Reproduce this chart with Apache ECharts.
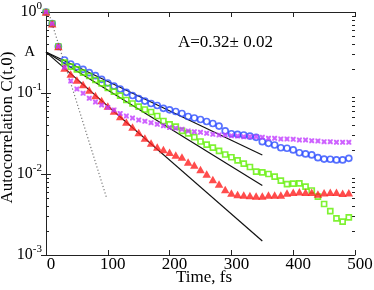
<!DOCTYPE html>
<html>
<head>
<meta charset="utf-8">
<script src="https://cdn.jsdelivr.net/npm/echarts@6/dist/echarts.min.js"></script>
<style>
html,body{margin:0;padding:0;background:#fff;}
#chart{width:374px;height:290px;}
</style>
</head>
<body>
<div id="chart"></div>
<script>
// ---- data ----
const times = [0,10,20,30,40,50,60,70,80,90,100,110,120,130,140,150,160,170,180,190,200,210,220,230,240,250,260,270,280,290,300,310,320,330,340,350,360,370,380,390,400,410,420,430,440,450,460,470,480,490];

const blueCircles = [1,0.717,0.375,0.2555,0.228,0.211,0.196,0.178,0.1636,0.1476,0.1329,0.122,0.112,0.102,0.0931,0.0855,0.0796,0.0742,0.0701,0.0647,0.0620,0.0591,0.0558,0.0513,0.0491,0.0471,0.0445,0.0420,0.0391,0.0340,0.0314,0.0309,0.0303,0.0294,0.0284,0.0251,0.0239,0.0228,0.0211,0.0208,0.0198,0.0183,0.0177,0.0172,0.0159,0.0153,0.0152,0.0149,0.0149,0.0156];

const greenSquares = [1,0.717,0.375,0.2366,0.2112,0.1962,0.1780,0.1622,0.1447,0.1317,0.1152,0.1038,0.0926,0.0819,0.0742,0.0678,0.0626,0.0583,0.0520,0.0451,0.0411,0.0384,0.0340,0.0318,0.0286,0.0252,0.0231,0.0212,0.0193,0.0174,0.0161,0.0147,0.0134,0.0122,0.01067,0.0105,0.0100,0.00926,0.00827,0.00752,0.00759,0.00768,0.00697,0.00626,0.00525,0.00426,0.00349,0.00284,0.00258,0.00292];

const magentaCrosses = [1,0.717,0.375,0.2077,0.1406,0.1120,0.0992,0.0860,0.0774,0.0711,0.0662,0.0617,0.0558,0.0520,0.0491,0.0464,0.0447,0.0430,0.0412,0.0395,0.0375,0.0367,0.0356,0.0340,0.0333,0.0327,0.0318,0.0309,0.0303,0.0303,0.0297,0.0294,0.0289,0.0289,0.0289,0.0284,0.0276,0.0276,0.0270,0.0270,0.0268,0.0263,0.0263,0.0258,0.0256,0.0251,0.0251,0.0246,0.0246,0.0246];

const redTriangles = [1,0.717,0.375,0.2035,0.1716,0.1447,0.1273,0.1089,0.0931,0.0808,0.0691,0.0600,0.0513,0.0439,0.0380,0.0325,0.0278,0.0241,0.0215,0.0201,0.0186,0.0172,0.0162,0.0141,0.0129,0.0114,0.0100,0.00855,0.00752,0.00643,0.00583,0.00558,0.00550,0.00543,0.00535,0.00535,0.00550,0.00550,0.00550,0.00583,0.00594,0.00605,0.00594,0.00594,0.00566,0.00588,0.00594,0.00594,0.00578,0.00588];

const amplitude = 0.32;
const amplitudeLabel = 'A';
const fitTimes = [0, 350];
const fitBlue = [0.32, 0.0172];
const fitGreen = [0.32, 0.0072];
const fitRed = [0.32, 0.00149];
const dottedTimes = [0, 98];
const dottedValues = [1.25, 0.0051];

const xTickValues = [0,100,200,300,400,500];
const yTickExponents = {'1':'0','0.1':'-1','0.01':'-2','0.001':'-3'};
const yMinorTicks = [0.002,0.003,0.004,0.005,0.006,0.007,0.008,0.009,0.02,0.03,0.04,0.05,0.06,0.07,0.08,0.09,0.2,0.3,0.4,0.5,0.6,0.7,0.8,0.9];
const annotation = 'A=0.32\u00b1 0.02';

// ---- chart ----
const FONT = '"Liberation Serif", "Times New Roman", serif';
const pairs = (xs, ys) => xs.map((x, i) => [x, ys[i]]);
const chart = echarts.init(document.getElementById('chart'), null, {renderer: 'canvas'});

const axisLineStyle = {color: '#222', width: 1};
const xMin = xTickValues[0], xMax = xTickValues[xTickValues.length - 1];

const option = {
  animation: false,
  backgroundColor: '#fff',
  grid: {left: 46, right: 19, top: 12, bottom: 35, containLabel: false, outerBoundsMode: 'none'},
  xAxis: [{
    type: 'value', min: xMin, max: xMax, interval: 100,
    position: 'bottom',
    axisLine: {show: true, lineStyle: axisLineStyle},
    axisTick: {show: true, inside: true, length: 5, lineStyle: axisLineStyle},
    splitLine: {show: false},
    axisLabel: {fontFamily: FONT, fontSize: 17, color: '#000', margin: 1, padding: [0, 0, 0, 10]},
    name: 'Time, fs', nameLocation: 'middle', nameGap: 14, nameMoveOverlap: false,
    nameTextStyle: {fontFamily: FONT, fontSize: 17, color: '#000', padding: [0, 0, 0, 7]}
  }, {
    type: 'value', min: xMin, max: xMax, interval: 100,
    position: 'top',
    axisLine: {show: true, lineStyle: axisLineStyle},
    axisTick: {show: true, inside: true, length: 5, lineStyle: axisLineStyle},
    splitLine: {show: false},
    axisLabel: {show: false}
  }],
  yAxis: [{
    type: 'log', logBase: 10, min: 0.001, max: 1,
    position: 'left',
    axisLine: {show: true, lineStyle: axisLineStyle},
    axisTick: {show: true, inside: true, length: 5, lineStyle: axisLineStyle},
    splitLine: {show: false},
    axisLabel: {
      margin: 4,
      formatter: function (v) {
        const key = String(+v.toPrecision(3));
        return '{b|10}{s|' + (yTickExponents[key] || '') + '}';
      },
      rich: {
        b: {fontFamily: FONT, fontSize: 16, color: '#000', lineHeight: 22},
        s: {fontFamily: FONT, fontSize: 11, color: '#000', verticalAlign: 'top', lineHeight: 11}
      }
    },
    name: 'Autocorrelation C(t,0)', nameLocation: 'middle', nameGap: 30, nameRotate: 90, nameMoveOverlap: false,
    nameTextStyle: {fontFamily: FONT, fontSize: 17, color: '#000', padding: [0, 0, 0, 12]}
  }, {
    type: 'log', logBase: 10, min: 0.001, max: 1,
    position: 'right',
    axisLine: {show: true, lineStyle: axisLineStyle},
    axisTick: {show: true, inside: true, length: 5, lineStyle: axisLineStyle},
    splitLine: {show: false},
    axisLabel: {show: false}
  }],
  graphic: [{
    type: 'text',
    x: 178, y: 43,
    style: {text: annotation, font: '17px ' + FONT, fill: '#000', verticalAlign: 'middle'}
  }],
  series: [
    {
      type: 'custom', xAxisIndex: 0, yAxisIndex: 0, silent: true, clip: false,
      data: yMinorTicks.map(v => [xMin, v]),
      renderItem: function (params, api) {
        const v = api.value(1);
        const pL = api.coord([xMin, v]);
        const pR = api.coord([xMax, v]);
        const y = Math.round(pL[1]) + 0.5;
        return {type: 'group', children: [
          {type: 'line', shape: {x1: pL[0], y1: y, x2: pL[0] + 3, y2: y}, style: {stroke: '#222', lineWidth: 1}},
          {type: 'line', shape: {x1: pR[0] - 3, y1: y, x2: pR[0], y2: y}, style: {stroke: '#222', lineWidth: 1}}
        ]};
      }
    },
    {
      type: 'custom', silent: true, clip: false, z: 6,
      data: [[xMin, amplitude]],
      renderItem: function (params, api) {
        const p = api.coord([api.value(0), api.value(1)]);
        return {type: 'text', x: p[0] - 11, y: p[1],
                style: {text: amplitudeLabel, font: '15px ' + FONT, fill: '#000', align: 'right', verticalAlign: 'middle'}};
      }
    },
    {
      type: 'line', data: pairs(dottedTimes, dottedValues), showSymbol: false, symbol: 'none',
      lineStyle: {color: '#777', width: 1.2, type: [1.2, 2.2]}, clip: true, z: 2
    },
    {
      type: 'line', data: pairs(fitTimes, fitBlue), symbol: 'none',
      lineStyle: {color: '#111', width: 1.2}, z: 3
    },
    {
      type: 'line', data: pairs(fitTimes, fitGreen), symbol: 'none',
      lineStyle: {color: '#111', width: 1.2}, z: 3
    },
    {
      type: 'line', data: pairs(fitTimes, fitRed), symbol: 'none',
      lineStyle: {color: '#111', width: 1.2}, z: 3
    },
    {
      type: 'scatter', data: pairs(times, blueCircles), symbol: 'circle', symbolSize: 6,
      itemStyle: {color: 'rgba(255,255,255,0)', borderColor: '#2d4dff', borderWidth: 1.7}, z: 4
    },
    {
      type: 'scatter', data: pairs(times, greenSquares), symbol: 'rect', symbolSize: 5,
      itemStyle: {color: 'rgba(255,255,255,0)', borderColor: '#5fef00', borderWidth: 1.7}, z: 4
    },
    {
      type: 'scatter', data: pairs(times, redTriangles), symbol: 'triangle', symbolSize: [8.5, 7.5],
      itemStyle: {color: '#ff1f1f'}, z: 4
    },
    {
      type: 'scatter', data: pairs(times, magentaCrosses),
      symbol: 'path://M0,0 L3,0 L5,2 L7,0 L10,0 L10,3 L8,5 L10,7 L10,10 L7,10 L5,8 L3,10 L0,10 L0,7 L2,5 L0,3 Z',
      symbolSize: 5, itemStyle: {color: '#c23cff'}, z: 5
    }
  ]
};
chart.setOption(option);
</script>
</body>
</html>
